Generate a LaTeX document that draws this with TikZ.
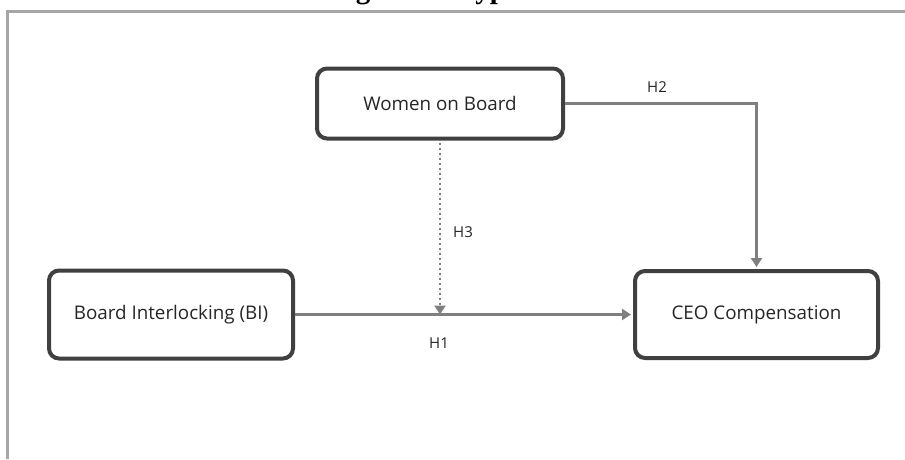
\documentclass[tikz,border=0pt]{standalone}
\usepackage{fontspec}
\setmainfont{Open Sans}
\newfontfamily\titlefont{Liberation Serif}
\usetikzlibrary{arrows.meta}
\definecolor{boxline}{HTML}{404040}
\definecolor{arrowgray}{HTML}{7F7F7F}
\definecolor{framegray}{HTML}{A6A6A6}
\definecolor{txt}{HTML}{262626}
\begin{document}
\begin{tikzpicture}[x=1pt,y=-1pt,
  box/.style={draw=boxline, line width=4pt, rounded corners=10pt, fill=white,
    font=\fontsize{18.8}{22}\selectfont, text=txt, inner sep=0pt},
  conn/.style={draw=arrowgray, line width=2.5pt, -{Triangle[length=9pt,width=11pt]}},
  lbl/.style={font=\fontsize{15}{17}\selectfont, text=txt, inner sep=0pt}]
\useasboundingbox (0,0) rectangle (905,459);
\begin{scope}
\clip (0,0) rectangle (905,459);
\node[anchor=base west, inner sep=0pt, font=\titlefont\bfseries\fontsize{29}{32}\selectfont] (title) at (330,-1.4) {Figure 1: Hypotheses};
\end{scope}
\draw[framegray, line width=2.5pt] (7.5,459) -- (7.5,11.5) -- (906,11.5);
\node[box, minimum width=246pt, minimum height=70pt] (wob) at (440,103.5) {Women on Board};
\node[box, minimum width=244pt, minimum height=88pt] (bi) at (171,314.5) {Board Interlocking (BI)};
\node[box, minimum width=243pt, minimum height=87pt] (ceo) at (756.5,314.5) {CEO Compensation};
\coordinate (h3end) at (wob.south |- bi.east);
\draw[conn, shorten >=2pt] (bi.east) -- (ceo.west);
\draw[conn, shorten >=2pt] (wob.east) -| (ceo.north);
\draw[conn, -{Triangle[length=9pt,width=11pt]}, dash pattern=on 2.5pt off 2.5pt, shorten <=2pt] (wob.south) -- (h3end);
\node[lbl] (h2) at (657,87) {H2};
\node[lbl] (h3) at (463,232) {H3};
\node[lbl] (h1) at (439,343) {H1};
\end{tikzpicture}
\end{document}
